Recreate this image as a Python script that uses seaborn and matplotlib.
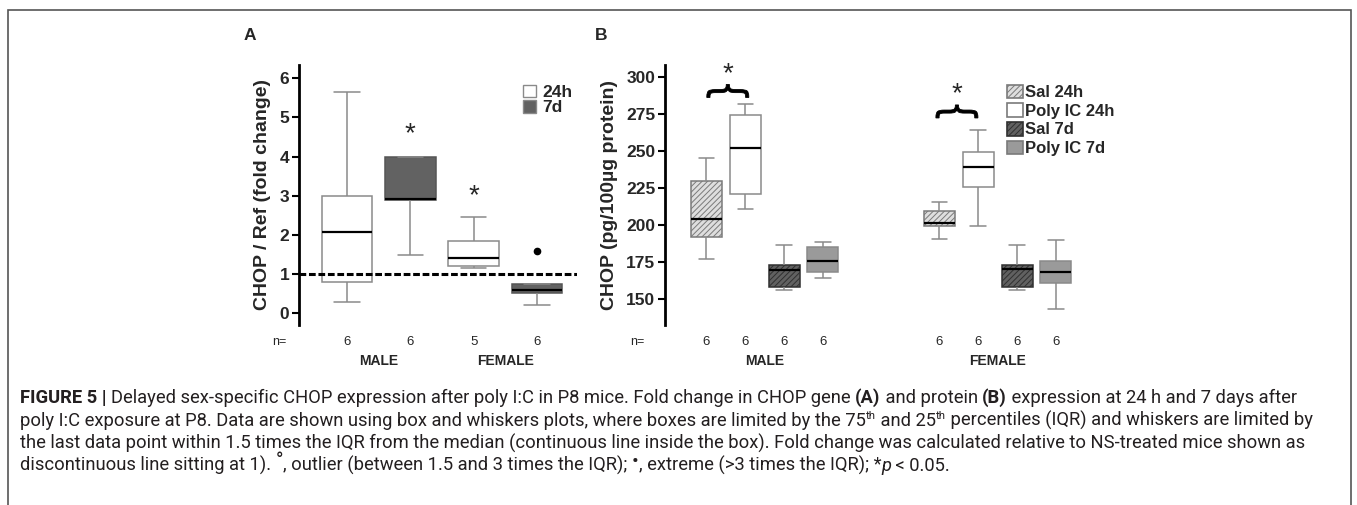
import matplotlib
matplotlib.use("Agg")
import matplotlib.pyplot as plt
import matplotlib.colors as mcolors
from matplotlib import font_manager
from matplotlib.patches import Patch, Rectangle, PathPatch
from matplotlib.textpath import TextPath
from matplotlib.transforms import Affine2D, IdentityTransform
import seaborn as sns
import pandas as pd

pos_a = [0, 1, 2, 3]
time_a = ["24h", "7d", "24h", "7d"]
n_a = [6, 6, 5, 6]
sex_a = ["MALE", "FEMALE"]
box_a = [
    [0.30, 0.81, 2.07, 3.00, 5.65],   # male 24h
    [1.50, 2.88, 2.92, 4.00, 4.00],   # male 7d
    [1.15, 1.21, 1.41, 1.84, 2.47],   # female 24h
    [0.20, 0.53, 0.60, 0.74, 0.74],   # female 7d
]
extreme_x = [3]
extreme_y = [1.60]

# ---- Panel B: CHOP protein (pg/100µg protein)
pos_b = [0, 1, 2, 3, 6, 7, 8, 9]
treat_b = ["Sal 24h", "Poly IC 24h", "Sal 7d", "Poly IC 7d"] * 2
n_b = [6, 6, 6, 6, 6, 6, 6, 6]
sex_b = ["MALE", "FEMALE"]
box_b = [
    [177.0, 191.8, 203.9, 229.7, 245.4],
    [210.6, 220.8, 252.2, 274.4, 281.4],
    [156.1, 158.3, 170.0, 173.0, 186.4],
    [164.6, 168.6, 175.6, 185.0, 188.8],
    [190.4, 199.4, 201.6, 209.7, 215.8],
    [199.2, 225.9, 239.4, 249.3, 264.1],
    [156.1, 158.5, 170.6, 173.0, 186.4],
    [143.6, 161.0, 168.6, 175.8, 190.2],
]

W, H = 1357, 505

sns.set_theme(style="white")
installed = {f.name for f in font_manager.fontManager.ttflist}
plot_font = "Liberation Sans" if "Liberation Sans" in installed else "DejaVu Sans"
cap_font = "Liberation Sans Narrow" if "Liberation Sans Narrow" in installed else "Roboto"
plt.rcParams["font.family"] = [plot_font, "DejaVu Sans"]
plt.rcParams["hatch.linewidth"] = 0.7

pal_a = {"24h": "#ffffff", "7d": "#626262"}
pal_b = {"Sal 24h": "#dedede", "Poly IC 24h": "#ffffff", "Sal 7d": "#616161", "Poly IC 7d": "#9a9a9a"}
hatch_b = {"Sal 24h": ("//////", "#7a7a7a"), "Sal 7d": ("//////", "#303030")}

df_a = pd.DataFrame([(p, t, v) for p, t, vals in zip(pos_a, time_a, box_a) for v in vals],
                    columns=["pos", "time", "value"])
df_b = pd.DataFrame([(p, t, v) for p, t, vals in zip(pos_b, treat_b, box_b) for v in vals],
                    columns=["pos", "treat", "value"])

fig = plt.figure(figsize=(W / 100, H / 100), dpi=100)


def px_axes(left, right, top, bottom):
    return fig.add_axes([left / W, 1 - bottom / H, (right - left) / W, (bottom - top) / H])


ax_a = px_axes(299, 577, 65, 325)
ax_b = px_axes(665, 1120, 65, 325)

box_kw = dict(native_scale=True, dodge=False, width=0.8, whis=(0, 100), showfliers=False,
              saturation=1, linecolor="#8a8a8a", linewidth=1.1, legend=False,
              medianprops=dict(color="black", linewidth=1.6))

sns.boxplot(data=df_a, x="pos", y="value", hue="time", palette=pal_a, ax=ax_a, **box_kw)
sns.boxplot(data=df_b, x="pos", y="value", hue="treat", palette=pal_b, ax=ax_b, **box_kw)

# hatching for the saline boxes in B
for p in ax_b.patches:
    fc = mcolors.to_hex(p.get_facecolor())
    for name, (hatch, hc) in hatch_b.items():
        if fc == pal_b[name]:
            p.set_hatch(hatch)
            p.set_edgecolor(hc)
for p in ax_a.patches:
    if mcolors.to_hex(p.get_facecolor()) == pal_a["7d"]:
        p.set_edgecolor("#555555")

ax_a.plot(extreme_x, extreme_y, "o", color="black", markersize=4.5)
ax_a.axhline(1, color="black", linestyle=(0, (2.2, 0.9)), linewidth=2.2, zorder=5)

ax_a.set_xlim(-0.758, 3.63)
ax_a.set_ylim(-0.30, 6.34)
ax_a.set_yticks(range(0, 7))
ax_b.set_xlim(-1.067, 10.65)
ax_b.set_ylim(132.7, 307.9)
ax_b.set_yticks(range(150, 301, 25))

for ax, label in [(ax_a, "CHOP / Ref (fold change)"), (ax_b, "CHOP (pg/100µg protein)")]:
    sns.despine(ax=ax, bottom=True)
    ax.spines["left"].set_linewidth(2)
    ax.spines["left"].set_color("black")
    ax.set_xticks([])
    ax.set_xlabel("")
    ax.tick_params(axis="y", direction="out", length=5, width=1.5, color="black",
                   labelsize=12.5, pad=2, left=True)
    for t in ax.get_yticklabels():
        t.set_fontweight("bold")
    ax.set_ylabel(label, fontsize=14, fontweight="bold", labelpad=6)
    ax.text(-0.045, -0.065, "n=", transform=ax.transAxes, ha="right", va="center", fontsize=9)

tr_a = ax_a.get_xaxis_transform()
for p, n in zip(pos_a, n_a):
    ax_a.text(p, -0.065, str(n), transform=tr_a, ha="center", va="center", fontsize=9.5)
for i, s in enumerate(sex_a):
    ax_a.text(pos_a[2 * i] + 0.5, -0.14, s, transform=tr_a, ha="center", va="center",
              fontsize=10, fontweight="bold")

tr_b = ax_b.get_xaxis_transform()
for p, n in zip(pos_b, n_b):
    ax_b.text(p, -0.065, str(n), transform=tr_b, ha="center", va="center", fontsize=9.5)
for i, s in enumerate(sex_b):
    ax_b.text(pos_b[4 * i] + 1.5, -0.14, s, transform=tr_b, ha="center", va="center",
              fontsize=10, fontweight="bold")

# significance marks
ax_a.text(1, 4.56, "*", ha="center", va="center", fontsize=20)
ax_a.text(2, 2.98, "*", ha="center", va="center", fontsize=20)

# curly brace: the "{" glyph outline, turned point-up and stretched over two boxes
brace = TextPath((0, 0), "{", size=1, prop=font_manager.FontProperties(family="DejaVu Sans"))
bext = brace.get_extents()


def add_brace(ax, xc, yc, width_px, height_px):
    X, Y = ax.transData.transform((xc, yc))
    tr = (Affine2D()
          .translate(-(bext.x0 + bext.width / 2), -(bext.y0 + bext.height / 2))
          .rotate_deg(-90)
          .scale(width_px / bext.height, height_px / bext.width)
          .translate(X, Y))
    ax.add_patch(PathPatch(tr.transform_path(brace), transform=IdentityTransform(),
                           facecolor="black", edgecolor="black", linewidth=0.6, clip_on=False))


for xc, yb, ys in [(0.55, 290.4, 301.5), (6.45, 276.6, 288.0)]:
    add_brace(ax_b, xc, yb, 42, 13)
    ax_b.text(xc, ys, "*", ha="center", va="center", fontsize=20)

# legends
leg_a = [Patch(facecolor=pal_a[k], edgecolor="#8a8a8a", label=k) for k in ["24h", "7d"]]
ax_a.legend(handles=leg_a, loc="upper left", bbox_to_anchor=(0.805, 0.925), frameon=False,
            prop=dict(weight="bold", size=12.5), handlelength=0.75, handleheight=0.75,
            handletextpad=0.35, labelspacing=0.0, borderaxespad=0, borderpad=0)
leg_b = []
for k in ["Sal 24h", "Poly IC 24h", "Sal 7d", "Poly IC 7d"]:
    h, hc = hatch_b.get(k, (None, "#7a7a7a"))
    leg_b.append(Patch(facecolor=pal_b[k], edgecolor=hc, hatch=h, linewidth=1.2, label=k))
ax_b.legend(handles=leg_b, loc="upper left", bbox_to_anchor=(0.752, 0.925), frameon=False,
            prop=dict(weight="bold", size=12), handlelength=0.95, handleheight=0.9,
            handletextpad=0.1, labelspacing=0.18, borderaxespad=0, borderpad=0)

fig.text(250 / W, 1 - 36 / H, "A", fontsize=12.5, fontweight="bold", ha="center", va="center")
fig.text(601 / W, 1 - 36 / H, "B", fontsize=12.5, fontweight="bold", ha="center", va="center")

# frame round the whole figure
fig.add_artist(Rectangle((8 / W, -0.05), (1351 - 8) / W, 1.05 - 10 / H, transform=fig.transFigure,
                         fill=False, edgecolor="#555555", linewidth=1.2))

# caption, drawn run by run so bold / italic / raised pieces can sit in one line
# each run: text, weight, style, (size factor, raise factor)
N = (1.0, 0.0)
SUP = (0.62, 0.55)
SYM = (1.1, 0.3)
caption = [
    [("FIGURE 5 | ", "bold", "normal", N),
     ("Delayed sex-specific CHOP expression after poly I:C in P8 mice. Fold change in CHOP gene ", "normal", "normal", N),
     ("(A)", "bold", "normal", N), (" and protein ", "normal", "normal", N),
     ("(B)", "bold", "normal", N),
     (" expression at 24 h and 7 days after", "normal", "normal", N)],
    [("poly I:C exposure at P8. Data are shown using box and whiskers plots, where boxes are limited by the 75", "normal", "normal", N),
     ("th", "normal", "normal", SUP), (" and 25", "normal", "normal", N), ("th", "normal", "normal", SUP),
     (" percentiles (IQR) and whiskers are limited by", "normal", "normal", N)],
    [("the last data point within 1.5 times the IQR from the median (continuous line inside the box). Fold change was calculated relative to NS-treated mice shown as", "normal", "normal", N)],
    [("discontinuous line sitting at 1). ", "normal", "normal", N), ("°", "normal", "normal", SYM),
     (", outlier (between 1.5 and 3 times the IQR); ", "normal", "normal", N), ("•", "normal", "normal", SYM),
     (", extreme (>3 times the IQR); *", "normal", "normal", N), ("p", "normal", "italic", N),
     (" < 0.05.", "normal", "normal", N)],
]
renderer = fig.canvas.get_renderer()


def draw_line(runs, x0, base, size, draw=True):
    x = x0
    for text, weight, style, (k, up) in runs:
        t = fig.text(x / W, 1 - (base - size * up) / H, text, fontsize=size * k, fontweight=weight,
                     fontstyle=style, family=[cap_font, "DejaVu Sans"], ha="left", va="baseline",
                     color="#231f20")
        x += t.get_window_extent(renderer).width
        if not draw:
            t.remove()
    return x - x0


size = 11.0
width = draw_line(caption[1], 20, 0, size, draw=False)
size = size * (1312 - 20) / width
for runs, base in zip(caption, [403, 426, 449, 471]):
    draw_line(runs, 20, base, size)

fig.savefig("out.png", dpi=100)
